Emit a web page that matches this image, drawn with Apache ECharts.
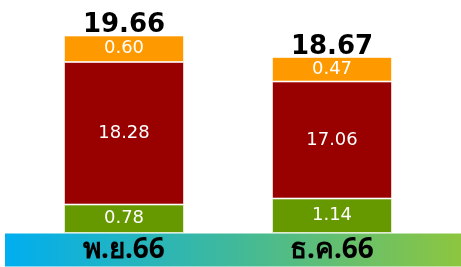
<!DOCTYPE html>
<html>
<head>
<meta charset="utf-8">
<script src="https://cdn.jsdelivr.net/npm/echarts@6/dist/echarts.min.js"></script>
<style>
  html, body { margin: 0; padding: 0; background: #fff; }
  #chart { width: 461px; height: 267px; }
</style>
</head>
<body>
<div id="chart"></div>
<script>
// หมวดหมู่ (เดือน)
const months = ['พ.ย.66', 'ธ.ค.66']
// ค่าที่แสดงบนแท่ง
const greenValues = [0.78, 1.14]
const redValues = [18.28, 17.06]
const orangeValues = [0.60, 0.47]
const totals = [19.66, 18.67]
// ความสูงของแต่ละช่วงตามที่เห็นในภาพ (แท่งไม่ได้วาดตามสัดส่วนค่าจริง)
const greenShown = [28.5, 34.5]
const redShown = [142.5, 117]
const orangeShown = [26.5, 24.5]

const myChart = echarts.init(document.getElementById('chart'))

const innerLabel = (vals) => ({
  show: true,
  position: 'inside',
  color: '#fff',
  fontFamily: 'DejaVu Sans',
  fontSize: 18,
  formatter: (p) => vals[p.dataIndex].toFixed(2)
})

const segment = (name, shown, vals, color) => ({
  name: name,
  type: 'bar',
  stack: 'total',
  barWidth: 120,
  itemStyle: { color: color, borderColor: 'rgba(255,255,255,0.6)', borderWidth: 1 },
  label: innerLabel(vals),
  data: shown
})

const options = {
  animation: false,
  graphic: [{
    type: 'rect',
    z: -1,
    shape: { x: 5, y: 233.5, width: 456, height: 33 },
    style: {
      fill: new echarts.graphic.LinearGradient(0, 0, 1, 0, [
        { offset: 0, color: '#00AEEF' },
        { offset: 0.5, color: '#40B99A' },
        { offset: 1, color: '#8DC63F' }
      ])
    }
  }],
  grid: { left: 20, right: 25, top: 0, bottom: 34 },
  xAxis: {
    type: 'category',
    data: months,
    axisLine: { show: false },
    axisTick: { show: false },
    axisLabel: {
      margin: 3,
      color: '#000',
      fontWeight: 'bold',
      fontSize: 28,
      fontFamily: 'Noto Sans, DejaVu Sans'
    }
  },
  yAxis: {
    type: 'value',
    min: 0,
    max: 233,
    show: false
  },
  series: [
    segment('green', greenShown, greenValues, '#669900'),
    segment('red', redShown, redValues, '#990000'),
    segment('orange', orangeShown, orangeValues, '#FF9900'),
    {
      name: 'total',
      type: 'bar',
      stack: 'total',
      barWidth: 120,
      silent: true,
      itemStyle: { color: 'transparent' },
      label: {
        show: true,
        position: 'insideBottom',
        distance: 0,
        offset: [0, 3],
        color: '#000',
        fontWeight: 'bold',
        fontSize: 26,
        fontFamily: 'DejaVu Sans',
        formatter: (p) => totals[p.dataIndex].toFixed(2)
      },
      data: [0, 0]
    }
  ]
}

myChart.setOption(options)
</script>
</body>
</html>
